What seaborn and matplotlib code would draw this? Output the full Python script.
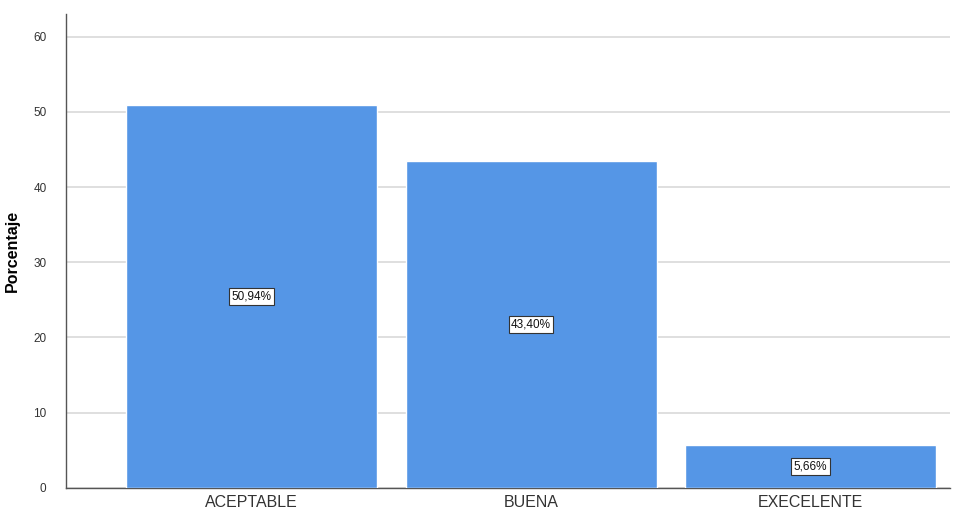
import pandas as pd
import matplotlib
matplotlib.use("Agg")
import matplotlib.pyplot as plt
import seaborn as sns

# categories and their percentages
categorias = ["ACEPTABLE", "BUENA", "EXECELENTE"]
porcentajes = [50.94, 43.40, 5.66]
etiquetas = ["50,94%", "43,40%", "5,66%"]

df = pd.DataFrame({"cat": categorias, "pct": porcentajes})

sns.set_style("white")
plt.rcParams['font.family'] = ['Liberation Sans', 'DejaVu Sans']

fig = plt.figure(figsize=(9.56, 5.18), dpi=100)
ax = fig.add_axes([0.069, 0.058, 0.925, 0.915])

sns.barplot(data=df, x="cat", y="pct", color="#5596E6", saturation=1,
            width=0.898, ax=ax, zorder=3)

# value labels in the middle of each bar
for i, (v, t) in enumerate(zip(porcentajes, etiquetas)):
    ax.text(i, v / 2, t, ha="center", va="center", fontsize=8.5, zorder=5,
            color="#111111",
            bbox=dict(boxstyle="square,pad=0.2", fc="white", ec="#333333", lw=0.8))

ax.set_ylim(0, 63)
ax.set_xlim(-0.664, 2.5)
ax.set_yticks([0, 10, 20, 30, 40, 50, 60])
ax.yaxis.grid(True, color="#dcdcdc", lw=1.3, zorder=0)
ax.set_axisbelow(True)

ax.set_xlabel("")
ax.set_ylabel("Porcentaje", fontsize=11.5, fontweight="bold", color="black", labelpad=10)
ax.tick_params(axis="y", labelsize=8.5, colors="#333333", length=0, pad=14)
ax.tick_params(axis="x", labelsize=11.5, colors="#333333", length=0, pad=5)

for s in ["top", "right"]:
    ax.spines[s].set_visible(False)
for s in ["left", "bottom"]:
    ax.spines[s].set_color("#555555")
    ax.spines[s].set_linewidth(1)

fig.savefig("out.png", dpi=100)
